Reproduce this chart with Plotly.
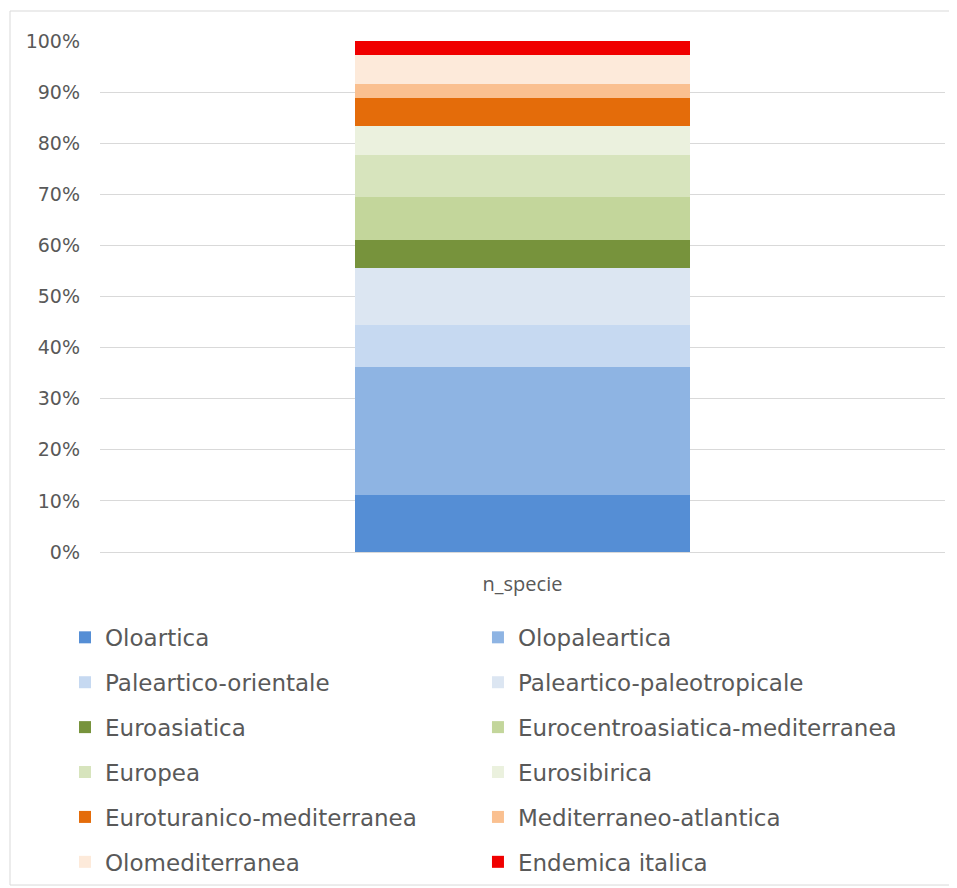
import plotly.graph_objects as go

categories = ["n_specie"]
series_names = [
    "Oloartica", "Olopaleartica",
    "Paleartico-orientale", "Paleartico-paleotropicale",
    "Euroasiatica", "Eurocentroasiatica-mediterranea",
    "Europea", "Eurosibirica",
    "Euroturanico-mediterranea", "Mediterraneo-atlantica",
    "Olomediterranea", "Endemica italica",
]
series_counts = [4, 9, 3, 4, 2, 3, 3, 2, 2, 1, 2, 1]
series_colors = [
    "#558ED5", "#8EB4E3",
    "#C6D9F1", "#DCE6F2",
    "#77933C", "#C3D69B",
    "#D7E4BD", "#EBF1DE",
    "#E46C0A", "#FAC090",
    "#FDEADA", "#F00000",
]
y_tick_vals = [0, 10, 20, 30, 40, 50, 60, 70, 80, 90, 100]
y_tick_text = ["0%", "10%", "20%", "30%", "40%", "50%", "60%", "70%", "80%", "90%", "100%"]

fig = go.Figure()
for i, (name, val, col) in enumerate(zip(series_names, series_counts, series_colors)):
    fig.add_trace(go.Bar(
        x=categories, y=[val], name=name,
        marker=dict(color=col, line=dict(width=0)),
        legend="legend" if i % 2 == 0 else "legend2",
        legendgroup=name,
    ))

legend_font = dict(family="DejaVu Sans", size=23, color="#595959")
fig.update_layout(
    barmode="stack",
    barnorm="percent",
    bargap=0.604,
    width=957, height=888,
    margin=dict(l=92, r=20, t=33, b=344),
    paper_bgcolor="white",
    plot_bgcolor="white",
    xaxis=dict(
        showgrid=False, showline=False, ticks="",
        ticklabelstandoff=18,
        tickfont=dict(family="Open Sans", size=20, color="#595959"),
    ),
    yaxis=dict(
        range=[0, 100],
        tickvals=y_tick_vals, ticktext=y_tick_text,
        showgrid=True, gridcolor="#D9D9D9", gridwidth=1,
        zeroline=True, zerolinecolor="#D9D9D9", zerolinewidth=1,
        showline=False, ticks="", ticklen=0,
        ticklabelstandoff=19,
        tickfont=dict(family="DejaVu Sans", size=19, color="#595959"),
    ),
    legend=dict(
        x=-0.0414, xanchor="left", y=-0.125, yanchor="top",
        orientation="v", traceorder="grouped", tracegroupgap=12,
        font=legend_font, bgcolor="rgba(0,0,0,0)",
    ),
    legend2=dict(
        x=0.4473, xanchor="left", y=-0.125, yanchor="top",
        orientation="v", traceorder="grouped", tracegroupgap=12,
        font=legend_font, bgcolor="rgba(0,0,0,0)",
    ),
    showlegend=True,
    shapes=[dict(
        type="path", xref="paper", yref="paper",
        path="M 1.1,-0.6517 L -0.1065,-0.6517 L -0.1065,1.0587 L 1.1,1.0587",
        line=dict(color="#D9D9D9", width=1), fillcolor="rgba(0,0,0,0)",
        layer="below",
    )],
)

fig.write_html("out.html")
